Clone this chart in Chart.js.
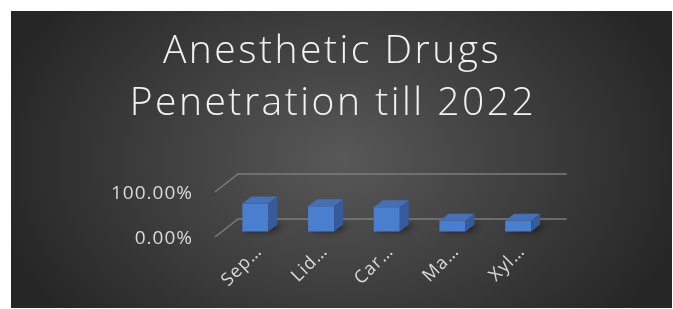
<!DOCTYPE html>
<html lang="en">

<head>
    <meta charset="UTF-8">
    <title>Anesthetic Drugs Penetration till 2022</title>
    <style>
        body {
            margin: 0;
            background: #ffffff;
        }

        #wrap {
            position: absolute;
            left: 11px;
            top: 11px;
            width: 661px;
            height: 297px;
            background: radial-gradient(54% 84% at 50% 50%, #585858 0%, #262626 100%);
        }
    </style>
</head>

<body>
    <div id="wrap">
        <canvas id="drugChart" width="661" height="297"></canvas>
    </div>

    <script src="https://cdn.jsdelivr.net/npm/chart.js"></script>
    <script>
        const chartTitle = ['Anesthetic Drugs', 'Penetration till 2022'];
        const categories = ['Sep…', 'Lid…', 'Car…', 'Ma…', 'Xyl…'];
        const penetration = [0.62, 0.56, 0.54, 0.24, 0.24];
        const yTicks = [0, 1];

        // fake depth for the excel style 3d look
        const floorDepth = { dx: 23, dy: -18 };
        const barShift = { dx: -4, dy: -5.5 };
        const barDepth = { dx: 9, dy: -7 };

        const depthPlugin = {
            id: 'depth',
            beforeDraw(chart) {
                const ctx = chart.ctx;
                // spaced title, drawn by hand because the title plugin has no letter spacing
                ctx.save();
                ctx.letterSpacing = '2.5px';
                ctx.fillStyle = '#f2f2f2';
                ctx.font = '300 39px "Open Sans"';
                ctx.textAlign = 'center';
                ctx.textBaseline = 'alphabetic';
                ctx.fillText(chartTitle[0], 321, 52);
                ctx.fillText(chartTitle[1], 322, 104);
                ctx.restore();
                ctx.letterSpacing = '1px';
            },
            beforeDatasetsDraw(chart) {
                const ctx = chart.ctx;
                const area = chart.chartArea;
                const y = chart.scales.y;

                // gridlines: side wall diagonal + back wall line
                ctx.save();
                ctx.strokeStyle = '#7c7c7c';
                ctx.lineWidth = 1.5;
                y.ticks.forEach(t => {
                    const py = y.getPixelForValue(t.value);
                    const fx = area.left - 11.5;
                    ctx.beginPath();
                    ctx.moveTo(fx, py);
                    ctx.lineTo(fx + floorDepth.dx, py + floorDepth.dy);
                    ctx.lineTo(area.right + 11.7, py + floorDepth.dy);
                    ctx.stroke();
                });
                ctx.restore();

                ctx.save();
                ctx.translate(barShift.dx, barShift.dy);

                // soft shadows on the floor
                const meta = chart.getDatasetMeta(0);
                ctx.save();
                ctx.filter = 'blur(3px)';
                ctx.fillStyle = 'rgba(0,0,0,0.55)';
                meta.data.forEach(bar => {
                    const l = bar.x - bar.width / 2;
                    const r = bar.x + bar.width / 2;
                    ctx.beginPath();
                    ctx.moveTo(l + 2, bar.base);
                    ctx.lineTo(r + 4, bar.base);
                    ctx.lineTo(r + barDepth.dx + 6, bar.base + barDepth.dy);
                    ctx.lineTo(l + barDepth.dx, bar.base + barDepth.dy);
                    ctx.closePath();
                    ctx.fill();
                });
                ctx.restore();
            },
            afterDatasetsDraw(chart) {
                const ctx = chart.ctx;
                const meta = chart.getDatasetMeta(0);
                meta.data.forEach(bar => {
                    const l = bar.x - bar.width / 2;
                    const r = bar.x + bar.width / 2;
                    // top face
                    ctx.fillStyle = '#4670b6';
                    ctx.beginPath();
                    ctx.moveTo(l, bar.y);
                    ctx.lineTo(r, bar.y);
                    ctx.lineTo(r + barDepth.dx, bar.y + barDepth.dy);
                    ctx.lineTo(l + barDepth.dx, bar.y + barDepth.dy);
                    ctx.closePath();
                    ctx.fill();
                    // side face
                    ctx.fillStyle = '#355b9c';
                    ctx.beginPath();
                    ctx.moveTo(r, bar.y);
                    ctx.lineTo(r + barDepth.dx, bar.y + barDepth.dy);
                    ctx.lineTo(r + barDepth.dx, bar.base + barDepth.dy);
                    ctx.lineTo(r, bar.base);
                    ctx.closePath();
                    ctx.fill();
                });
                ctx.restore();
            }
        };

        new Chart(document.getElementById('drugChart'), {
            type: 'bar',
            data: {
                labels: categories,
                datasets: [{
                    data: penetration,
                    backgroundColor: '#4a7ecf',
                    borderWidth: 0,
                    barPercentage: 0.396,
                    categoryPercentage: 1,
                    clip: false
                }]
            },
            options: {
                responsive: false,
                animation: false,
                layout: {
                    padding: { left: 0, right: 117, top: 181, bottom: 0 }
                },
                plugins: {
                    legend: { display: false },
                    tooltip: { enabled: false },
                    title: { display: false }
                },
                scales: {
                    x: {
                        grid: { display: false },
                        border: { display: false },
                        ticks: {
                            color: '#d9d9d9',
                            font: { family: 'Open Sans', size: 18 },
                            minRotation: 45,
                            maxRotation: 45,
                            autoSkip: false,
                            padding: -4
                        },
                        afterFit: scale => { scale.height = 71; }
                    },
                    y: {
                        min: 0,
                        max: 1,
                        grid: { display: false, drawTicks: false },
                        border: { display: false },
                        afterBuildTicks: scale => {
                            scale.ticks = yTicks.map(v => ({ value: v }));
                        },
                        ticks: {
                            color: '#d9d9d9',
                            font: { family: 'Open Sans', size: 19 },
                            padding: 33.5,
                            labelOffset: 2,
                            callback: value => (value * 100).toFixed(2) + '%'
                        },
                        afterFit: scale => { scale.width = 215.5; }
                    }
                }
            },
            plugins: [depthPlugin]
        });
    </script>
</body>

</html>
